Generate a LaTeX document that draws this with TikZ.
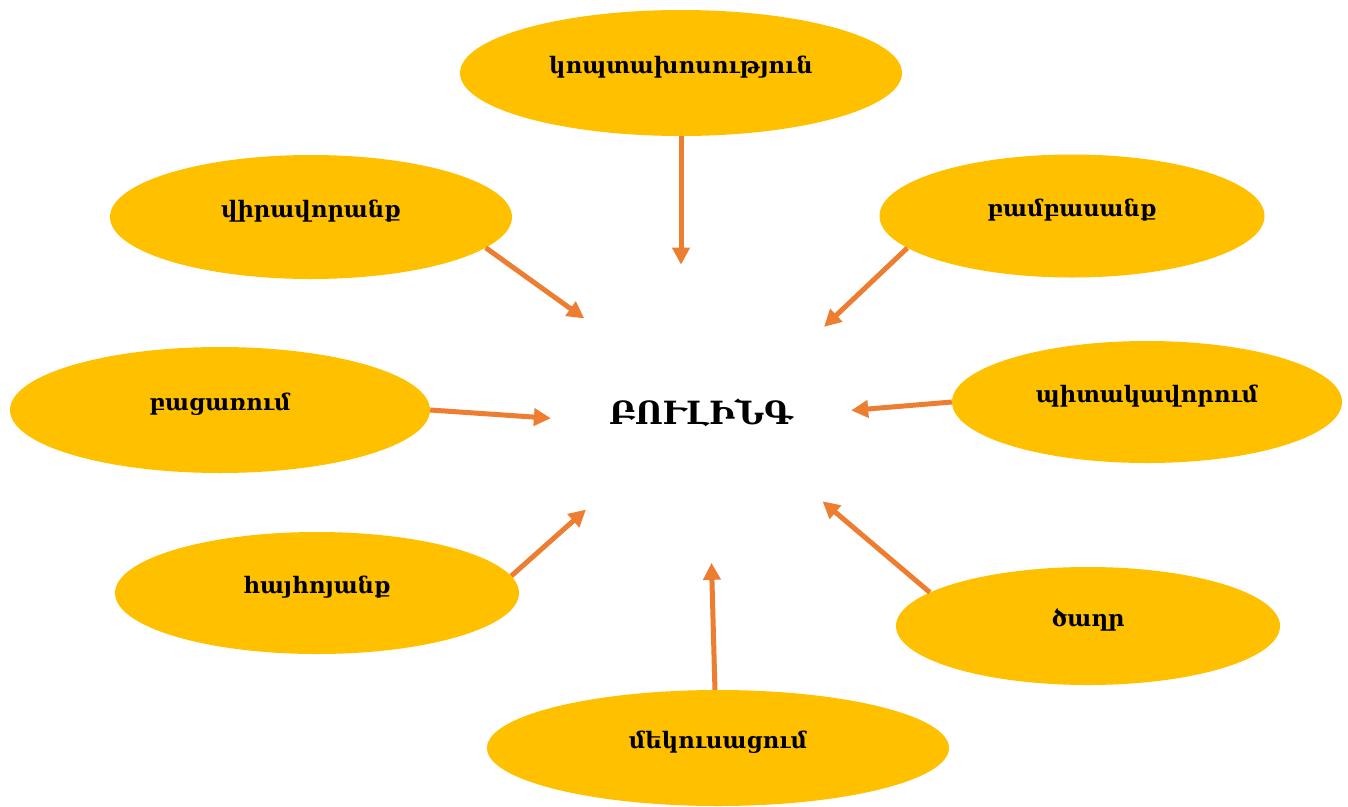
\documentclass[tikz,border=0pt]{standalone}
\usepackage{fontspec}
\usepackage{xcolor}
\usepackage{tikz}
\usetikzlibrary{arrows.meta, positioning, shapes.geometric}
\newfontfamily\armfont{DejaVu Serif}
\definecolor{bubblefill}{HTML}{FFC000}
\definecolor{arrowline}{HTML}{ED7D31}

\begin{document}
\begin{tikzpicture}[x=1pt, y=-1pt,
  bubble/.style={ellipse, fill=bubblefill, inner sep=0pt, text height=13pt, text depth=13pt, font=\armfont\bfseries\fontsize{22.7}{26}\selectfont},
  arr/.style={-{Triangle[length=17pt,width=17pt]}, line width=5pt, arrowline}]
\useasboundingbox (0,0) rectangle (1348,806);
\node[circle, minimum size=300pt, font=\armfont\bfseries\fontsize{32}{36}\selectfont] (bul) at (701,413) {ԲՈՒԼԻՆԳ};
\node[bubble, minimum width=442pt, minimum height=126pt] (kopt) at (681,73) {կոպտախոսություն};
\node[bubble, minimum width=402pt, minimum height=124pt] (vir) at (311,217) {վիրավորանք};
\node[bubble, minimum width=385pt, minimum height=123pt] (bamb) at (1072,216) {բամբասանք};
\node[bubble, minimum width=420pt, minimum height=126pt] (bac) at (220,410) {բացառում};
\node[bubble, minimum width=390pt, minimum height=122pt] (pit) at (1147,402) {պիտակավորում};
\node[bubble, minimum width=404pt, minimum height=122pt] (hay) at (317,593) {հայհոյանք};
\node[bubble, minimum width=384pt, minimum height=118pt] (tsaghr) at (1088,626) {ծաղր};
\node[bubble, minimum width=462pt, minimum height=116pt] (mek) at (718,748) {մեկուսացում};
\draw[arr] (kopt.south) -- (kopt.south |- bul.99);
\draw[arr] (vir.-10) -- (bul.141);
\draw[arr] (bamb.191) -- (bul.35);
\draw[arr] (bac.east) -- (bul.182);
\draw[arr] (pit.west) -- (bul.1);
\draw[arr] (hay.5) -- (bul.220);
\draw[arr] (tsaghr.168) -- (bul.324);
\draw[arr] (mek.93) -- (bul.274);
\end{tikzpicture}
\end{document}
